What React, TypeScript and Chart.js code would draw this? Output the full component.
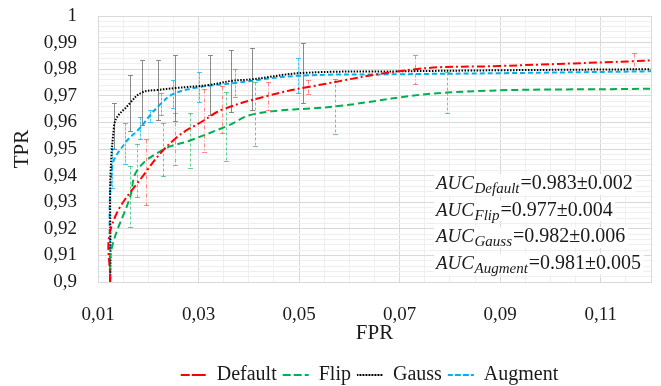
import React, { useEffect, useRef } from 'react';
import { Chart, registerables } from 'chart.js';

Chart.register(...registerables);

// ---------- data ----------
const seriesNames = ['Default', 'Flip', 'Gauss', 'Augment'];

const defaultFpr = [0.0124, 0.0127, 0.0195, 0.0253, 0.0311, 0.0347, 0.0438, 0.0518, 0.0731, 0.09, 0.1166, 0.12];
const defaultTpr = [0.9, 0.921, 0.9413, 0.9538, 0.9608, 0.9648, 0.970, 0.9733, 0.980, 0.9812, 0.983, 0.9833];
const defaultErr = [null, null, 0.0125, 0.0097, 0.0119, 0.0089, 0.0053, 0.0025, 0.0055, null, 0.003, null];

const flipFpr = [0.0124, 0.0127, 0.0164, 0.0178, 0.0229, 0.0283, 0.0355, 0.0412, 0.0572, 0.0794, 0.12];
const flipTpr = [0.9, 0.9125, 0.932, 0.942, 0.9497, 0.9532, 0.9585, 0.9632, 0.966, 0.9712, 0.9727];
const flipErr = [null, null, 0.0115, 0.010, 0.0099, 0.0102, 0.013, 0.012, 0.0105, 0.0076, null];

const gaussFpr = [0.0124, 0.0132, 0.0164, 0.0188, 0.0219, 0.0253, 0.0323, 0.0365, 0.0406, 0.0508, 0.07, 0.09, 0.12];
const gaussTpr = [0.9, 0.9587, 0.9673, 0.9713, 0.9722, 0.9729, 0.9741, 0.9756, 0.9762, 0.9786, 0.9792, 0.9796, 0.980];
const gaussErr = [null, 0.0086, 0.0106, 0.0121, 0.0112, 0.0123, 0.0113, 0.0117, 0.0116, 0.0112, null, null, null];

const augmentFpr = [0.0124, 0.0128, 0.0153, 0.0183, 0.0203, 0.0225, 0.0249, 0.030, 0.0372, 0.0497, 0.07, 0.09, 0.12];
const augmentTpr = [0.9, 0.943, 0.952, 0.9578, 0.9625, 0.967, 0.9706, 0.9732, 0.9748, 0.9775, 0.9781, 0.9785, 0.9792];
const augmentErr = [null, 0.0075, 0.0078, 0.0041, 0.0023, 0.0041, 0.0052, 0.0056, 0.0053, 0.0066, null, null, null];

const aucNames = ['Default', 'Flip', 'Gauss', 'Augment'];
const aucMeans = ['0.983', '0.977', '0.982', '0.981'];
const aucStds = ['0.002', '0.004', '0.006', '0.005'];

const xMin = 0.01;
const xMax = 0.12;
const xMinorStep = 0.005;
const xMajorStep = 0.02;
const yMin = 0.9;
const yMax = 1.0;
const yMinorStep = 0.002;
const yMajorStep = 0.01;

const FONT = "'Liberation Serif', serif";
const TEXT = '#1a1a1a';

const toPoints = (xs: number[], ys: number[]) => xs.map((x, i) => ({ x, y: ys[i] }));

const makeTicks = (min: number, max: number, step: number) => {
  const out: { value: number }[] = [];
  const n = Math.round((max - min) / step);
  for (let i = 0; i <= n; i++) out.push({ value: +(min + i * step).toFixed(5) });
  return out;
};

const isMajor = (v: number, min: number, step: number) => {
  const k = (v - min) / step;
  return Math.abs(k - Math.round(k)) < 1e-6;
};

const fmt = (v: number) => String(+v.toFixed(2)).replace('.', ',');

const errorBarPlugin = {
  id: 'errorBars',
  beforeDatasetsDraw(chart: any) {
    const { ctx, chartArea, scales } = chart;
    const xs = scales.x;
    const ys = scales.y;
    ctx.save();
    ctx.beginPath();
    ctx.rect(chartArea.left, chartArea.top, chartArea.right - chartArea.left, chartArea.bottom - chartArea.top);
    ctx.clip();
    chart.data.datasets.forEach((ds: any) => {
      const errs = ds.errors || [];
      ctx.strokeStyle = ds.errorColor;
      ctx.lineWidth = 1;
      ds.data.forEach((p: any, i: number) => {
        const e = errs[i];
        if (e == null) return;
        const px = Math.round(xs.getPixelForValue(p.x)) + 0.5;
        const top = Math.round(ys.getPixelForValue(p.y + e)) + 0.5;
        const bot = Math.round(ys.getPixelForValue(p.y - e)) + 0.5;
        ctx.setLineDash(ds.errorDash);
        ctx.beginPath();
        ctx.moveTo(px, top);
        ctx.lineTo(px, bot);
        ctx.stroke();
        ctx.setLineDash([]);
        ctx.beginPath();
        ctx.moveTo(px - 2.5, top);
        ctx.lineTo(px + 2.5, top);
        ctx.moveTo(px - 2.5, bot);
        ctx.lineTo(px + 2.5, bot);
        ctx.stroke();
      });
    });
    ctx.restore();
  },
};

const aucPlugin = {
  id: 'aucText',
  afterDraw(chart: any) {
    const { ctx, chartArea } = chart;
    const x0 = chartArea.right - 215;
    ctx.save();
    aucNames.forEach((name, i) => {
      const base = chartArea.top + 173 + i * 26.5;
      const bigFont = `italic 19px 'Liberation Serif', serif`;
      const subFont = `italic 15px 'Liberation Serif', serif`;
      const restFont = `20px 'Liberation Serif', serif`;
      const rest = `=${aucMeans[i]}\u00B1${aucStds[i]}`;
      ctx.font = bigFont;
      const w1 = ctx.measureText('AUC').width;
      ctx.font = subFont;
      const w2 = ctx.measureText(name).width;
      ctx.font = restFont;
      const w3 = ctx.measureText(rest).width;
      ctx.fillStyle = '#ffffff';
      ctx.fillRect(x0 - 2, base - 15, w1 + w2 + w3 + 6, 21);
      ctx.fillStyle = TEXT;
      ctx.textBaseline = 'alphabetic';
      ctx.textAlign = 'left';
      ctx.font = bigFont;
      ctx.fillText('AUC', x0, base);
      ctx.font = subFont;
      ctx.fillText(name, x0 + w1 + 0.5, base + 4);
      ctx.font = restFont;
      ctx.fillText(rest, x0 + w1 + w2 + 1.5, base);
    });
    ctx.restore();
  },
};

const legendShiftPlugin = {
  id: 'legendShift',
  afterLayout(chart: any) {
    const lg = chart.legend;
    if (lg) {
      lg.left += 44;
      lg.right += 44;
      lg.top += 9;
      lg.bottom += 9;
    }
  },
};

export default function App() {
  const canvasRef = useRef<HTMLCanvasElement | null>(null);

  useEffect(() => {
    document.body.style.margin = '0';
    const canvas = canvasRef.current;
    if (!canvas) return;

    const mk = (
      label: string,
      xs: number[],
      ys: number[],
      errs: (number | null)[],
      color: string,
      dash: number[],
      errColor: string,
      errDash: number[],
      width: number
    ) => ({
      label,
      data: toPoints(xs, ys),
      borderColor: color,
      backgroundColor: color,
      borderDash: dash,
      borderWidth: width,
      pointRadius: 0,
      pointHoverRadius: 0,
      tension: 0.4,
      fill: false,
      errors: errs,
      errorColor: errColor,
      errorDash: errDash,
    });

    const chart = new Chart(canvas, {
      type: 'line',
      data: {
        datasets: [
          mk(seriesNames[0], defaultFpr, defaultTpr, defaultErr, '#FF0000', [8, 3, 2, 3], 'rgba(255,60,60,0.6)', [4, 2, 1, 2], 2),
          mk(seriesNames[1], flipFpr, flipTpr, flipErr, '#00B050', [7, 4], 'rgba(0,176,80,0.6)', [3, 2], 2),
          mk(seriesNames[2], gaussFpr, gaussTpr, gaussErr, '#000000', [1.5, 1.5], 'rgba(110,110,110,0.8)', [], 2),
          mk(seriesNames[3], augmentFpr, augmentTpr, augmentErr, '#00B0F0', [5, 3], 'rgba(0,176,240,0.7)', [3, 1], 2),
        ] as any,
      },
      options: {
        responsive: false,
        animation: false,
        events: [],
        layout: { padding: { left: 0, right: 10, top: 16, bottom: 0 } },
        scales: {
          x: {
            type: 'linear',
            min: xMin,
            max: xMax,
            afterBuildTicks: (scale: any) => {
              scale.ticks = makeTicks(xMin, xMax, xMinorStep);
            },
            afterFit: (scale: any) => {
              scale.height = 68;
            },
            ticks: {
              autoSkip: false,
              maxRotation: 0,
              padding: 0,
              color: TEXT,
              font: { family: FONT, size: 19 },
              callback: (v: any) => (isMajor(v, xMin, xMajorStep) ? fmt(v) : ''),
            },
            grid: {
              drawTicks: true,
              tickLength: 22,
              tickColor: 'rgba(0,0,0,0)',
              color: (c: any) =>
                c.tick && (isMajor(c.tick.value, xMin, xMajorStep) || Math.abs(c.tick.value - xMax) < 1e-6)
                  ? '#d9d9d9'
                  : '#efefef',
            },
            border: { color: '#d9d9d9' },
            title: {
              display: true,
              text: 'FPR',
              color: TEXT,
              font: { family: FONT, size: 21 },
              padding: { top: 0, bottom: 4 },
            },
          },
          y: {
            type: 'linear',
            min: yMin,
            max: yMax,
            afterBuildTicks: (scale: any) => {
              scale.ticks = makeTicks(yMin, yMax, yMinorStep);
            },
            afterFit: (scale: any) => {
              scale.width = 98;
            },
            ticks: {
              autoSkip: false,
              padding: 0,
              color: TEXT,
              font: { family: FONT, size: 19 },
              callback: (v: any) => (isMajor(v, yMin, yMajorStep) ? fmt(v) : ''),
            },
            grid: {
              drawTicks: true,
              tickLength: 21,
              tickColor: 'rgba(0,0,0,0)',
              color: (c: any) => (c.tick && isMajor(c.tick.value, yMin, yMajorStep) ? '#d9d9d9' : '#efefef'),
            },
            border: { color: '#d9d9d9' },
            title: {
              display: true,
              text: 'TPR',
              color: TEXT,
              font: { family: FONT, size: 21 },
              padding: { top: 10, bottom: 0 },
            },
          },
        },
        plugins: {
          legend: {
            position: 'bottom',
            labels: {
              boxWidth: 26,
              boxHeight: 0,
              padding: 6,
              color: TEXT,
              font: { family: FONT, size: 20 },
            },
          },
          tooltip: { enabled: false },
        },
      } as any,
      plugins: [errorBarPlugin, aucPlugin, legendShiftPlugin],
    });

    return () => chart.destroy();
  }, []);

  return (
    <div style={{ position: 'fixed', left: 0, top: 0, width: 661, height: 386, background: '#fff' }}>
      <canvas ref={canvasRef} width={661} height={386} style={{ display: 'block' }} />
    </div>
  );
}
